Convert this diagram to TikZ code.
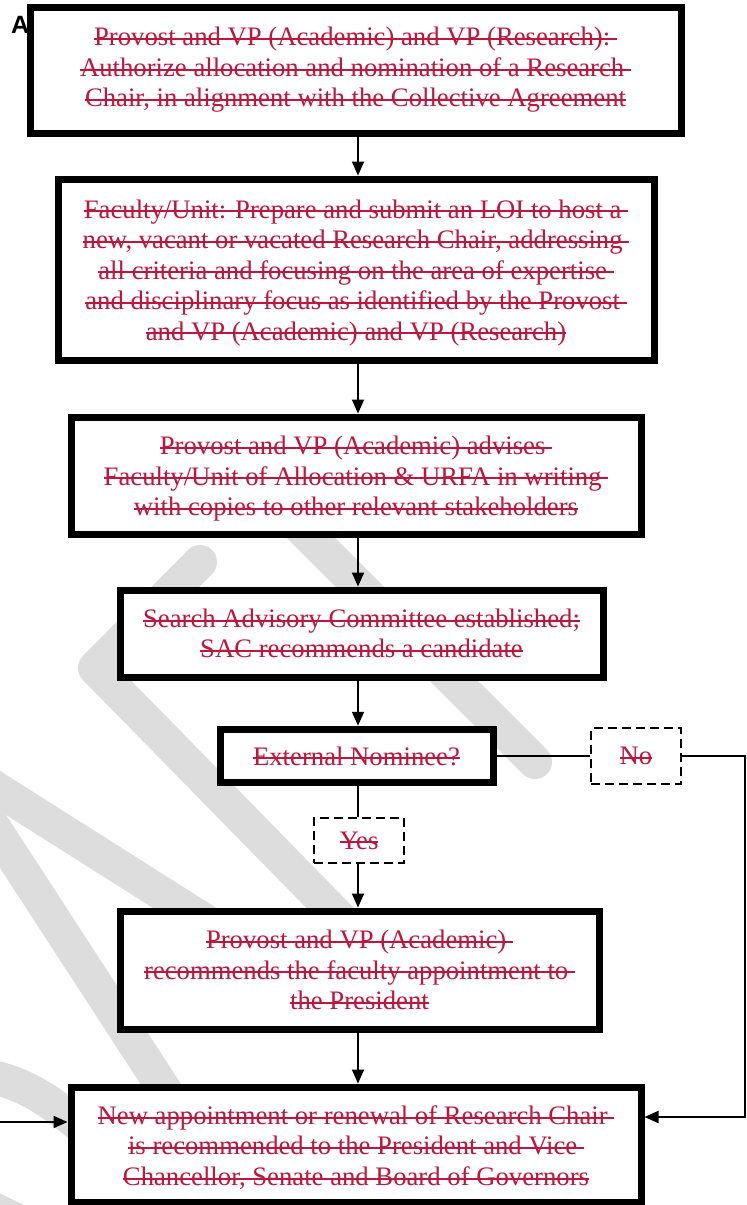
\documentclass[tikz,border=0pt]{standalone}
\usepackage{fontspec}
\setmainfont{Liberation Serif}
\newfontfamily\labelfont{Liberation Sans}
\usetikzlibrary{arrows.meta}
\definecolor{inkred}{RGB}{190,22,60}
\definecolor{markgray}{RGB}{221,221,221}
% struck-through line of text
\newsavebox\strikebox
\newcommand\strk[1]{\sbox\strikebox{#1}\rlap{\rule[0.22em]{\wd\strikebox}{0.075em}}\usebox\strikebox}
% extra room above the first line of a block
\newcommand\topgap{\rule{0pt}{25pt}}

\begin{document}
\begin{tikzpicture}[x=1pt,y=-1pt,
  stepbox/.style={draw=black, line width=7pt, fill=white, align=center, inner sep=0pt,
    text=inkred, font=\fontsize{26.7}{30.5}\selectfont},
  choice/.style={draw=black, line width=2.2pt, dash pattern=on 9pt off 5pt, fill=white,
    inner sep=0pt, text=inkred, font=\fontsize{26.7}{30.5}\selectfont, minimum width=90pt},
  flow/.style={line width=2pt, -{Triangle[length=14pt,width=12pt]}},
  link/.style={line width=2pt},
  band/.style={draw=markgray, line width=34pt, line cap=round, line join=round}]
\useasboundingbox (0,0) rectangle (747,1205);

% background mark
\begin{scope}
  \clip (0,0) rectangle (747,1205);
  \draw[band] (200,562) -- (95,668) -- (340,918);
  \draw[band] (250,477) -- (535,762);
  \draw[band] (-30,772) -- (330,1000);
  \draw[band] (-20,806) -- (175,1106);
  \draw[band] (-20,1075) .. controls (20,1080) and (50,1100) .. (85,1130);
  \draw[band] (-15,1205) -- (20,1222);
\end{scope}

% section letter, partly covered by the first box
\node[font=\labelfont\bfseries\fontsize{25}{25}\selectfont, anchor=base west, inner sep=0pt] (lbl) at (11,33) {A};

% process steps
\node[stepbox, minimum width=651pt, minimum height=126pt] (b1) at (355.5,70)
  {\strk{Provost and VP (Academic) and VP (Research):\ }\\
   \strk{Authorize allocation and nomination of a Research\ }\\
   \strk{Chair, in alignment with the Collective Agreement}};
\node[stepbox, minimum width=596pt, minimum height=181pt] (b2) at (356,269.5)
  {\topgap\strk{Faculty/Unit: Prepare and submit an LOI to host a\ }\\
   \strk{new, vacant or vacated Research Chair, addressing\ }\\
   \strk{all criteria and focusing on the area of expertise\ }\\
   \strk{and disciplinary focus as identified by the Provost\ }\\
   \strk{and VP (Academic) and VP (Research)}};
\node[stepbox, minimum width=570pt, minimum height=117pt] (b3) at (356,475.5)
  {\topgap\strk{Provost and VP (Academic) advises\ }\\
   \strk{Faculty/Unit of Allocation \& URFA in writing\ }\\
   \strk{with copies to other relevant stakeholders}};
\node[stepbox, minimum width=483pt, minimum height=87pt] (b4) at (361.5,633.5)
  {\strk{Search Advisory Committee established;}\\
   \strk{SAC recommends a candidate}};
\node[stepbox, minimum width=273pt, minimum height=53.5pt] (b5) at (356.5,756)
  {\strk{External Nominee?}};
\node[choice, minimum height=55.5pt] (no) at (636,756) {\strk{No}};
\node[choice, minimum height=45pt] (yes) at (359,840.5) {\strk{Yes}};
\node[stepbox, minimum width=479pt, minimum height=118pt] (b6) at (359.5,970)
  {\strk{Provost and VP (Academic)\ }\\
   \strk{recommends the faculty appointment to\ }\\
   \strk{the President}};
\node[stepbox, minimum width=570pt, minimum height=115pt] (b7) at (356,1144.5)
  {\topgap\strk{New appointment or renewal of Research Chair\ }\\
   \strk{is recommended to the President and Vice\ }\\
   \strk{Chancellor, Senate and Board of Governors}};

% connectors
\coordinate (mid) at (358,0);
\draw[flow] (b1.south -| mid) -- (b2.north -| mid);
\draw[flow] (b2.south -| mid) -- (b3.north -| mid);
\draw[flow] (b3.south -| mid) -- (b4.north -| mid);
\draw[flow] (b4.south -| mid) -- (b5.north -| mid);
\draw[link] (b5.south -| mid) -- (yes.north -| mid);
\draw[flow] (yes.south -| mid) -- (b6.north -| mid);
\draw[flow] (b6.south -| mid) -- (b7.north -| mid);
\draw[link] (b5.east) -- (no.west);
\coordinate (rturn) at (745,756);
\coordinate (rdown) at (745,1117);
\draw[flow] (no.east) -- (rturn) -- (rdown) -- (rdown -| b7.east);
\coordinate (lin) at (0,1122);
\draw[flow] (lin) -- (lin -| b7.west);
\end{tikzpicture}
\end{document}
